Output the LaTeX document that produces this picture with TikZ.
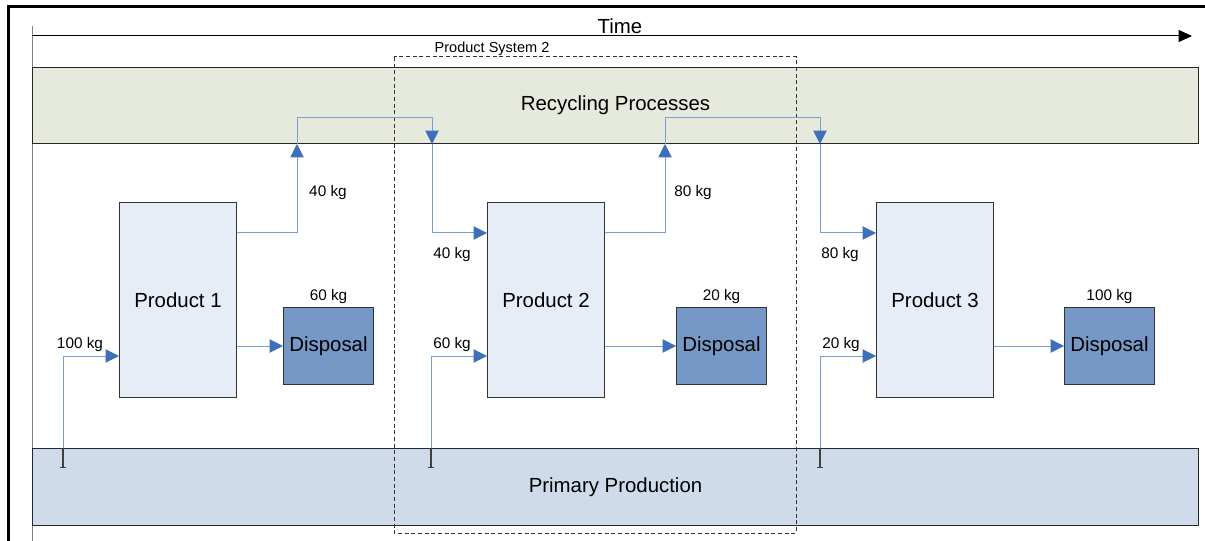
\documentclass[tikz,border=0pt]{standalone}
\usepackage{fontspec}
\setmainfont{Liberation Sans}
\usetikzlibrary{arrows.meta, positioning}
\definecolor{recfill}{RGB}{230,234,220}
\definecolor{primfill}{RGB}{207,219,235}
\definecolor{prodfill}{RGB}{231,237,246}
\definecolor{dispfill}{RGB}{118,152,198}
\definecolor{flowline}{RGB}{120,158,210}
\definecolor{flowtip}{RGB}{62,112,186}
\tikzset{
  band/.style={rectangle, draw=black!85, line width=0.75pt,
    minimum width=874.5pt, anchor=north west, inner sep=0pt,
    font=\fontsize{15.3}{18}\selectfont},
  prodbox/.style={rectangle, draw=black!80, fill=prodfill, line width=0.75pt,
    minimum width=87.75pt, minimum height=146.25pt, anchor=north west,
    inner sep=0pt, font=\fontsize{15.3}{18}\selectfont},
  dispbox/.style={rectangle, draw=black!80, fill=dispfill, line width=0.75pt,
    minimum width=67.5pt, minimum height=57.75pt, anchor=north west,
    inner sep=0pt, font=\fontsize{15.3}{18}\selectfont},
  kg/.style={inner sep=0pt, font=\fontsize{11.5}{13}\selectfont},
  flow/.style={-{Triangle[length=10pt, width=10pt, color=flowtip]},
    draw=flowline, line width=0.75pt},
  tick/.style={{Bar[width=4pt]}-, draw=black!75, line width=0.9pt}
}

\begin{document}
\begin{tikzpicture}[x=0.75pt, y=-0.75pt]
  \useasboundingbox (0,0) rectangle (1205,541);

  % Frame and time axis
  \draw[line width=2.25pt] (1205,6.5) -- (8,6.5) -- (8,541);
  \draw[black!50, line width=0.75pt] (32,26) -- (32,541);
  \draw[-{Triangle[length=10pt, width=9pt]}, line width=0.75pt] (32,36) -- (1192,36);
  \node[font=\fontsize{15.3}{18}\selectfont] (time) at (620,26) {Time};

  % Bands
  \node[band, fill=recfill, minimum height=57pt] (rec) at (32,67) {Recycling Processes};
  \node[band, fill=primfill, minimum height=57.75pt] (prim) at (32,448) {Primary Production};

  % Products
  \node[prodbox] (p1) at (119,202) {Product 1};
  \node[prodbox] (p2) at (487,202) {Product 2};
  \node[prodbox] (p3) at (876,202) {Product 3};

  % Disposal
  \node[dispbox] (d1) at (283,307) {Disposal};
  \node[dispbox] (d2) at (676,307) {Disposal};
  \node[dispbox] (d3) at (1064,307) {Disposal};
  \node[kg, above=2.5pt of d1] (w1) {60 kg};
  \node[kg, above=2.5pt of d2] (w2) {20 kg};
  \node[kg, above=2.5pt of d3] (w3) {100 kg};

  % Product system 2
  \draw[black!80, line width=0.75pt, dash pattern=on 3pt off 2pt] (394,57) rectangle (796,533);
  \node[font=\fontsize{10.9}{12}\selectfont, inner sep=0pt] (ps2) at (492,48.5) {Product System 2};

  % Primary inputs
  \coordinate (i1) at (63,468);
  \coordinate (i2) at (431,468);
  \coordinate (i3) at (820,468);
  \foreach \i/\p in {i1/p1, i2/p2, i3/p3} {
    \draw[tick] (\i) -- (\i |- prim.north);
    \draw[flow] (\i |- prim.north) |- (\p.west |- 0,356);
  }
  \node[kg] (a1) at (80,345) {100 kg};
  \node[kg] (a2) at (452,345) {60 kg};
  \node[kg] (a3) at (841,345) {20 kg};

  % Recycling loops
  \draw[flow] (p1.east |- 0,233) -| (297,0 |- rec.south);
  \draw[flow] (297,0 |- rec.south) -- (297,118) -| (432,0 |- rec.south);
  \draw[flow] (432,0 |- rec.south) |- (p2.west |- 0,233);
  \draw[flow] (p2.east |- 0,233) -| (665,0 |- rec.south);
  \draw[flow] (665,0 |- rec.south) -- (665,118) -| (820,0 |- rec.south);
  \draw[flow] (820,0 |- rec.south) |- (p3.west |- 0,233);
  \node[kg] (r1) at (328,192.5) {40 kg};
  \node[kg] (r2) at (452,254.5) {40 kg};
  \node[kg] (r3) at (693,192.5) {80 kg};
  \node[kg] (r4) at (840,254.5) {80 kg};

  % Disposal flows
  \draw[flow] (p1.east |- d1.west) -- (d1.west);
  \draw[flow] (p2.east |- d2.west) -- (d2.west);
  \draw[flow] (p3.east |- d3.west) -- (d3.west);
\end{tikzpicture}
\end{document}
